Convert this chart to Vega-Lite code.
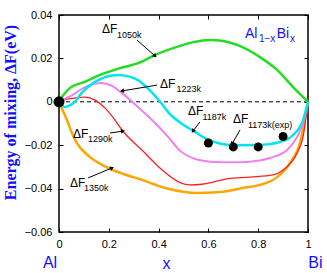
{
  "$schema": "https://vega.github.io/schema/vega-lite/v6.json",
  "width": 249,
  "height": 217,
  "autosize": {"type": "none"},
  "padding": {"left": 59, "top": 15, "right": 19, "bottom": 41},
  "config": {"view": {"stroke": "#000", "strokeWidth": 1.5}, "font": "Liberation Sans"},
  "datasets": {
    "curves": [
      {"s": "1350K", "x": 0, "y": 0}, {"s": "1350K", "x": 0.015, "y": -0.004}, {"s": "1350K", "x": 0.032, "y": -0.0084}, {"s": "1350K", "x": 0.052, "y": -0.0144}, {"s": "1350K", "x": 0.072, "y": -0.019}, {"s": "1350K", "x": 0.124, "y": -0.0254}, {"s": "1350K", "x": 0.197, "y": -0.0305}, {"s": "1350K", "x": 0.265, "y": -0.0335}, {"s": "1350K", "x": 0.333, "y": -0.036}, {"s": "1350K", "x": 0.426, "y": -0.0397}, {"s": "1350K", "x": 0.506, "y": -0.0416}, {"s": "1350K", "x": 0.55, "y": -0.042}, {"s": "1350K", "x": 0.647, "y": -0.0416}, {"s": "1350K", "x": 0.739, "y": -0.0397}, {"s": "1350K", "x": 0.807, "y": -0.0383}, {"s": "1350K", "x": 0.876, "y": -0.0347}, {"s": "1350K", "x": 0.928, "y": -0.0282}, {"s": "1350K", "x": 0.968, "y": -0.019}, {"s": "1350K", "x": 1, "y": 0},
      {"s": "1290K", "x": 0, "y": 0}, {"s": "1290K", "x": 0.03, "y": 0.0012}, {"s": "1290K", "x": 0.064, "y": 0.0017}, {"s": "1290K", "x": 0.104, "y": 0.0022}, {"s": "1290K", "x": 0.145, "y": 0.0008}, {"s": "1290K", "x": 0.185, "y": -0.0029}, {"s": "1290K", "x": 0.225, "y": -0.0084}, {"s": "1290K", "x": 0.253, "y": -0.013}, {"s": "1290K", "x": 0.333, "y": -0.0222}, {"s": "1290K", "x": 0.414, "y": -0.0314}, {"s": "1290K", "x": 0.478, "y": -0.0368}, {"s": "1290K", "x": 0.526, "y": -0.0383}, {"s": "1290K", "x": 0.575, "y": -0.038}, {"s": "1290K", "x": 0.62, "y": -0.037}, {"s": "1290K", "x": 0.675, "y": -0.0355}, {"s": "1290K", "x": 0.767, "y": -0.0347}, {"s": "1290K", "x": 0.859, "y": -0.0337}, {"s": "1290K", "x": 0.9, "y": -0.0314}, {"s": "1290K", "x": 0.956, "y": -0.0236}, {"s": "1290K", "x": 0.98, "y": -0.0162}, {"s": "1290K", "x": 1, "y": 0},
      {"s": "1187K", "x": 0, "y": 0}, {"s": "1187K", "x": 0.025, "y": 0.0015}, {"s": "1187K", "x": 0.052, "y": 0.003}, {"s": "1187K", "x": 0.104, "y": 0.0068}, {"s": "1187K", "x": 0.173, "y": 0.0087}, {"s": "1187K", "x": 0.21, "y": 0.0075}, {"s": "1187K", "x": 0.253, "y": 0.004}, {"s": "1187K", "x": 0.317, "y": -0.0024}, {"s": "1187K", "x": 0.386, "y": -0.0098}, {"s": "1187K", "x": 0.438, "y": -0.0162}, {"s": "1187K", "x": 0.486, "y": -0.0225}, {"s": "1187K", "x": 0.554, "y": -0.0266}, {"s": "1187K", "x": 0.618, "y": -0.0277}, {"s": "1187K", "x": 0.7, "y": -0.0279}, {"s": "1187K", "x": 0.755, "y": -0.0277}, {"s": "1187K", "x": 0.847, "y": -0.0259}, {"s": "1187K", "x": 0.916, "y": -0.0222}, {"s": "1187K", "x": 0.956, "y": -0.0162}, {"s": "1187K", "x": 0.985, "y": -0.008}, {"s": "1187K", "x": 1, "y": 0},
      {"s": "1050K", "x": 0, "y": 0}, {"s": "1050K", "x": 0.02, "y": 0.0035}, {"s": "1050K", "x": 0.045, "y": 0.0064}, {"s": "1050K", "x": 0.1, "y": 0.0091}, {"s": "1050K", "x": 0.165, "y": 0.0124}, {"s": "1050K", "x": 0.245, "y": 0.0155}, {"s": "1050K", "x": 0.32, "y": 0.0179}, {"s": "1050K", "x": 0.386, "y": 0.0216}, {"s": "1050K", "x": 0.474, "y": 0.0253}, {"s": "1050K", "x": 0.54, "y": 0.0275}, {"s": "1050K", "x": 0.606, "y": 0.0285}, {"s": "1050K", "x": 0.66, "y": 0.028}, {"s": "1050K", "x": 0.715, "y": 0.0262}, {"s": "1050K", "x": 0.807, "y": 0.0206}, {"s": "1050K", "x": 0.876, "y": 0.0147}, {"s": "1050K", "x": 0.94, "y": 0.0068}, {"s": "1050K", "x": 1, "y": 0},
      {"s": "1223K", "x": 0, "y": 0}, {"s": "1223K", "x": 0.024, "y": -0.0024}, {"s": "1223K", "x": 0.045, "y": -0.0015}, {"s": "1223K", "x": 0.064, "y": 0}, {"s": "1223K", "x": 0.09, "y": 0.004}, {"s": "1223K", "x": 0.116, "y": 0.0068}, {"s": "1223K", "x": 0.15, "y": 0.0095}, {"s": "1223K", "x": 0.185, "y": 0.0114}, {"s": "1223K", "x": 0.237, "y": 0.0124}, {"s": "1223K", "x": 0.28, "y": 0.0117}, {"s": "1223K", "x": 0.317, "y": 0.01}, {"s": "1223K", "x": 0.36, "y": 0.0058}, {"s": "1223K", "x": 0.406, "y": 0}, {"s": "1223K", "x": 0.45, "y": -0.0062}, {"s": "1223K", "x": 0.486, "y": -0.0095}, {"s": "1223K", "x": 0.538, "y": -0.0133}, {"s": "1223K", "x": 0.594, "y": -0.0172}, {"s": "1223K", "x": 0.65, "y": -0.0193}, {"s": "1223K", "x": 0.7, "y": -0.02}, {"s": "1223K", "x": 0.807, "y": -0.0199}, {"s": "1223K", "x": 0.888, "y": -0.0185}, {"s": "1223K", "x": 0.94, "y": -0.0153}, {"s": "1223K", "x": 0.98, "y": -0.0084}, {"s": "1223K", "x": 1, "y": 0}
    ],
    "exp": [
      {"x": 0.6, "y": -0.019}, {"x": 0.7, "y": -0.0208}, {"x": 0.8, "y": -0.0208}, {"x": 0.9, "y": -0.016}
    ],
    "origin": [{"x": 0, "y": 0}],
    "labels": [
      {"t": "ΔF", "x": 0.173, "y": 0.0317, "k": "m"}, {"t": "1050k", "x": 0.233, "y": 0.0292, "k": "s"},
      {"t": "ΔF", "x": 0.406, "y": 0.0064, "k": "m"}, {"t": "1223k", "x": 0.472, "y": 0.0043, "k": "s"},
      {"t": "ΔF", "x": 0.518, "y": -0.0061, "k": "m"}, {"t": "1187k", "x": 0.576, "y": -0.0084, "k": "s"},
      {"t": "ΔF", "x": 0.699, "y": -0.0098, "k": "m"}, {"t": "1173k(exp)", "x": 0.759, "y": -0.0121, "k": "s"},
      {"t": "ΔF", "x": 0.056, "y": -0.0167, "k": "m"}, {"t": "1290k", "x": 0.116, "y": -0.0186, "k": "s"},
      {"t": "ΔF", "x": 0.044, "y": -0.0393, "k": "m"}, {"t": "1350k", "x": 0.1, "y": -0.0411, "k": "s"},
      {"t": "Al", "x": 0.747, "y": 0.0294, "k": "bm"}, {"t": "1−x", "x": 0.803, "y": 0.0276, "k": "bs"},
      {"t": "Bi", "x": 0.874, "y": 0.0294, "k": "bm"}, {"t": "x", "x": 0.928, "y": 0.0276, "k": "bs"},
      {"t": "Al", "x": -0.036, "y": -0.0766, "k": "end"}, {"t": "Bi", "x": 1.03, "y": -0.0766, "k": "end"}
    ],
    "arrows": [
      {"x": 0.313, "y": 0.0285, "x2": 0.386, "y2": 0.0211, "a": 131.6},
      {"x": 0.394, "y": 0.0077, "x2": 0.253, "y2": 0.005, "a": 260},
      {"x": 0.566, "y": -0.0093, "x2": 0.538, "y2": -0.0135, "a": 218},
      {"x": 0.727, "y": -0.013, "x2": 0.695, "y2": -0.0194, "a": 210},
      {"x": 0.205, "y": -0.0144, "x2": 0.257, "y2": -0.0135, "a": 81},
      {"x": 0.116, "y": -0.0351, "x2": 0.213, "y2": -0.0305, "a": 67.4}
    ]
  },
  "layer": [
    {
      "data": {"values": [{"z": 0}]},
      "mark": {"type": "rule", "color": "#000", "strokeWidth": 1, "strokeDash": [4, 3]},
      "encoding": {
        "y": {"field": "z", "type": "quantitative", "scale": {"domain": [-0.06, 0.04], "nice": false, "zero": false}, "axis": null}
      }
    },
    {
      "data": {"name": "curves"},
      "transform": [{"filter": "datum.s == '1350K'"}],
      "mark": {"type": "line", "interpolate": "monotone", "strokeWidth": 2.5},
      "encoding": {
        "x": {"field": "x", "type": "quantitative", "scale": {"domain": [0, 1], "nice": false, "zero": false},
          "axis": {"orient": "bottom", "values": [0, 0.2, 0.4, 0.6, 0.8, 1], "format": "~g", "grid": false, "domain": false,
            "tickSize": -4, "tickColor": "#000", "labelPadding": 10, "labelFontSize": 11, "labelColor": "#000", "labelFlush": false,
            "title": "x", "titleColor": "#1010ff", "titleFontSize": 16, "titleFontWeight": "normal", "titleX": 107, "titleY": 36, "titleBaseline": "alphabetic"}},
        "y": {"field": "y", "type": "quantitative", "scale": {"domain": [-0.06, 0.04], "nice": false, "zero": false},
          "axis": {"orient": "left", "values": [-0.06, -0.04, -0.02, 0, 0.02, 0.04], "labelExpr": "datum.value == 0 ? '0' : format(datum.value, '.2f')",
            "grid": false, "domain": false, "tickSize": -4, "tickColor": "#000", "labelPadding": 11, "labelFontSize": 11, "labelColor": "#000", "labelFlush": false,
            "title": "Energy of mixing, ΔF(eV)", "titleColor": "#1010ff", "titleFont": "Liberation Serif", "titleFontSize": 16, "titleFontWeight": "bold",
            "titleX": -44, "titleY": 97, "titleBaseline": "alphabetic"}},
        "color": {"field": "s", "type": "nominal", "legend": null,
          "scale": {"domain": ["1350K", "1290K", "1187K", "1050K", "1223K"], "range": ["#ffa500", "#ff2020", "#ee82ee", "#22dd22", "#00e5f0"]}}
      }
    },
    {
      "data": {"name": "curves"},
      "transform": [{"filter": "datum.s == '1290K'"}],
      "mark": {"type": "line", "interpolate": "monotone", "strokeWidth": 1.3},
      "encoding": {
        "x": {"field": "x", "type": "quantitative", "scale": {"domain": [0, 1], "nice": false, "zero": false}, "axis": null},
        "y": {"field": "y", "type": "quantitative", "scale": {"domain": [-0.06, 0.04], "nice": false, "zero": false}, "axis": null},
        "color": {"field": "s", "type": "nominal", "legend": null,
          "scale": {"domain": ["1350K", "1290K", "1187K", "1050K", "1223K"], "range": ["#ffa500", "#ff2020", "#ee82ee", "#22dd22", "#00e5f0"]}}
      }
    },
    {
      "data": {"name": "curves"},
      "transform": [{"filter": "datum.s == '1187K'"}],
      "mark": {"type": "line", "interpolate": "monotone", "strokeWidth": 2},
      "encoding": {
        "x": {"field": "x", "type": "quantitative", "scale": {"domain": [0, 1], "nice": false, "zero": false}, "axis": null},
        "y": {"field": "y", "type": "quantitative", "scale": {"domain": [-0.06, 0.04], "nice": false, "zero": false}, "axis": null},
        "color": {"field": "s", "type": "nominal", "legend": null,
          "scale": {"domain": ["1350K", "1290K", "1187K", "1050K", "1223K"], "range": ["#ffa500", "#ff2020", "#ee82ee", "#22dd22", "#00e5f0"]}}
      }
    },
    {
      "data": {"name": "curves"},
      "transform": [{"filter": "datum.s == '1050K' || datum.s == '1223K'"}],
      "mark": {"type": "line", "interpolate": "monotone", "strokeWidth": 2.5},
      "encoding": {
        "x": {"field": "x", "type": "quantitative", "scale": {"domain": [0, 1], "nice": false, "zero": false}, "axis": null},
        "y": {"field": "y", "type": "quantitative", "scale": {"domain": [-0.06, 0.04], "nice": false, "zero": false}, "axis": null},
        "color": {"field": "s", "type": "nominal", "legend": null,
          "scale": {"domain": ["1350K", "1290K", "1187K", "1050K", "1223K"], "range": ["#ffa500", "#ff2020", "#ee82ee", "#22dd22", "#00e5f0"]}}
      }
    },
    {
      "data": {"name": "exp"},
      "mark": {"type": "circle", "color": "#000", "opacity": 1, "size": 80},
      "encoding": {
        "x": {"field": "x", "type": "quantitative", "scale": {"domain": [0, 1], "nice": false, "zero": false},
          "axis": {"orient": "top", "values": [0, 0.2, 0.4, 0.6, 0.8, 1], "labels": false, "grid": false, "domain": false, "tickSize": -4, "tickColor": "#000", "title": null}},
        "y": {"field": "y", "type": "quantitative", "scale": {"domain": [-0.06, 0.04], "nice": false, "zero": false},
          "axis": {"orient": "right", "values": [-0.06, -0.04, -0.02, 0, 0.02, 0.04], "labels": false, "grid": false, "domain": false, "tickSize": -4, "tickColor": "#000", "title": null}}
      }
    },
    {
      "data": {"name": "origin"},
      "mark": {"type": "circle", "color": "#000", "opacity": 1, "size": 120},
      "encoding": {
        "x": {"field": "x", "type": "quantitative", "scale": {"domain": [0, 1], "nice": false, "zero": false}, "axis": null},
        "y": {"field": "y", "type": "quantitative", "scale": {"domain": [-0.06, 0.04], "nice": false, "zero": false}, "axis": null}
      }
    },
    {
      "data": {"name": "arrows"},
      "mark": {"type": "rule", "color": "#000", "strokeWidth": 1},
      "encoding": {
        "x": {"field": "x", "type": "quantitative", "scale": {"domain": [0, 1], "nice": false, "zero": false}, "axis": null},
        "y": {"field": "y", "type": "quantitative", "scale": {"domain": [-0.06, 0.04], "nice": false, "zero": false}, "axis": null},
        "x2": {"field": "x2"},
        "y2": {"field": "y2"}
      }
    },
    {
      "data": {"name": "arrows"},
      "mark": {"type": "point", "shape": "triangle-up", "filled": true, "color": "#000", "size": 22, "opacity": 1},
      "encoding": {
        "x": {"field": "x2", "type": "quantitative", "scale": {"domain": [0, 1], "nice": false, "zero": false}, "axis": null},
        "y": {"field": "y2", "type": "quantitative", "scale": {"domain": [-0.06, 0.04], "nice": false, "zero": false}, "axis": null},
        "angle": {"field": "a", "type": "quantitative", "scale": null}
      }
    },
    {
      "data": {"name": "labels"},
      "transform": [{"filter": "datum.k == 'm'"}],
      "mark": {"type": "text", "align": "left", "baseline": "alphabetic", "fontSize": 12, "color": "#000", "font": "Liberation Sans"},
      "encoding": {
        "x": {"field": "x", "type": "quantitative", "scale": {"domain": [0, 1], "nice": false, "zero": false}, "axis": null},
        "y": {"field": "y", "type": "quantitative", "scale": {"domain": [-0.06, 0.04], "nice": false, "zero": false}, "axis": null},
        "text": {"field": "t"}
      }
    },
    {
      "data": {"name": "labels"},
      "transform": [{"filter": "datum.k == 's'"}],
      "mark": {"type": "text", "align": "left", "baseline": "alphabetic", "fontSize": 9, "color": "#000", "font": "Liberation Sans"},
      "encoding": {
        "x": {"field": "x", "type": "quantitative", "scale": {"domain": [0, 1], "nice": false, "zero": false}, "axis": null},
        "y": {"field": "y", "type": "quantitative", "scale": {"domain": [-0.06, 0.04], "nice": false, "zero": false}, "axis": null},
        "text": {"field": "t"}
      }
    },
    {
      "data": {"name": "labels"},
      "transform": [{"filter": "datum.k == 'bm'"}],
      "mark": {"type": "text", "align": "left", "baseline": "alphabetic", "fontSize": 14, "color": "#1010ff", "font": "Liberation Sans"},
      "encoding": {
        "x": {"field": "x", "type": "quantitative", "scale": {"domain": [0, 1], "nice": false, "zero": false}, "axis": null},
        "y": {"field": "y", "type": "quantitative", "scale": {"domain": [-0.06, 0.04], "nice": false, "zero": false}, "axis": null},
        "text": {"field": "t"}
      }
    },
    {
      "data": {"name": "labels"},
      "transform": [{"filter": "datum.k == 'bs'"}],
      "mark": {"type": "text", "align": "left", "baseline": "alphabetic", "fontSize": 10, "color": "#1010ff", "font": "Liberation Sans"},
      "encoding": {
        "x": {"field": "x", "type": "quantitative", "scale": {"domain": [0, 1], "nice": false, "zero": false}, "axis": null},
        "y": {"field": "y", "type": "quantitative", "scale": {"domain": [-0.06, 0.04], "nice": false, "zero": false}, "axis": null},
        "text": {"field": "t"}
      }
    },
    {
      "data": {"name": "labels"},
      "transform": [{"filter": "datum.k == 'end'"}],
      "mark": {"type": "text", "align": "center", "baseline": "alphabetic", "fontSize": 16, "color": "#1010ff", "font": "Liberation Sans"},
      "encoding": {
        "x": {"field": "x", "type": "quantitative", "scale": {"domain": [0, 1], "nice": false, "zero": false}, "axis": null},
        "y": {"field": "y", "type": "quantitative", "scale": {"domain": [-0.06, 0.04], "nice": false, "zero": false}, "axis": null},
        "text": {"field": "t"}
      }
    }
  ],
  "resolve": {"axis": {"x": "independent", "y": "independent"}}
}
